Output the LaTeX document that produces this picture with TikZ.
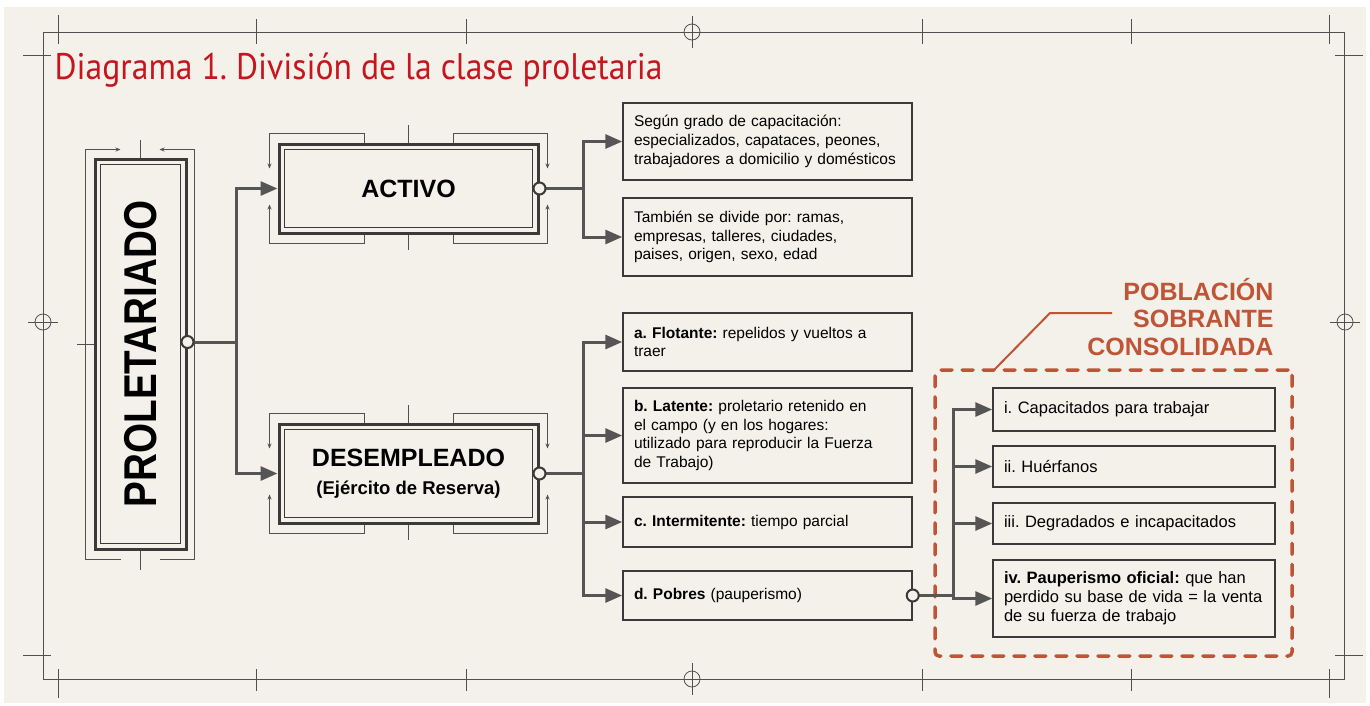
\documentclass[tikz,border=0pt]{standalone}
\usepackage{fontspec}
\setmainfont{Liberation Sans}
\newfontfamily\titlefont{PT Sans}
\usepackage{graphicx}
\usepackage{xcolor}
\usetikzlibrary{arrows.meta,positioning}

\definecolor{paper}{HTML}{F3F1EA}
\definecolor{boxline}{HTML}{3A3A3A}
\definecolor{wire}{HTML}{555555}
\definecolor{frameline}{HTML}{505050}
\definecolor{titlered}{HTML}{C8141C}
\definecolor{rust}{HTML}{BF5536}
\frenchspacing

\begin{document}
\begin{tikzpicture}[x=1pt, y=-1pt,
    every node/.style={font=\fontsize{15.5}{18.8}\selectfont},
    dbox/.style={draw=boxline, line width=3pt, fill=paper, align=center, font=\bfseries\fontsize{25}{30}\selectfont},
    txtbox/.style={draw=boxline, line width=1.5pt, fill=paper, text width=267pt, inner xsep=11pt, inner ysep=0pt, align=left},
    subbox/.style={txtbox, text width=260pt, font=\fontsize{16.5}{19}\selectfont},
    port/.style={circle, draw=boxline, line width=2pt, fill=paper, minimum size=12pt, inner sep=0pt},
    conn/.style={draw=wire, line width=3pt, -{Triangle[length=17pt,width=14pt]}},
    tick/.style={draw=frameline, line width=0.8pt},
    mini/.style={tick, -{Stealth[length=5pt,width=4pt]}}]

    % paper
    \fill[white] (0,0) rectangle (1370,705);
    \fill[paper] (4,7) rectangle (1366,703);
    \useasboundingbox (0,0) rectangle (1370,705);

    % sheet frame and register marks
    \draw[tick] (43,32) rectangle (1344,679);
    \foreach \x in {58,1329} {
        \draw[tick] (\x,15) -- (\x,44);
        \draw[tick] (\x,669) -- (\x,698);
    }
    \foreach \x in {256,466,922,1131} {
        \draw[tick] (\x,19) -- (\x,44);
        \draw[tick] (\x,669) -- (\x,691);
    }
    \foreach \y in {55,655} {
        \draw[tick] (23,\y) -- (51,\y);
        \draw[tick] (1335,\y) -- (1363,\y);
    }
    \foreach \y in {32,679} {
        \draw[tick] (692,\y) circle (8pt);
        \draw[tick] (692,\y-16) -- (692,\y+16);
    }
    \foreach \x in {43,1345} {
        \draw[tick] (\x,322) circle (8pt);
        \draw[tick] (\x-15,322) -- (\x+15,322);
    }

    \node[anchor=west, text=titlered, font=\titlefont\fontsize{37}{40}\selectfont] (title) at (51,70) {\scalebox{0.91}[1]{Diagrama 1. División de la clase proletaria}};

    % main boxes
    \node[dbox, minimum width=91, minimum height=390] (prol) at (140.5,354) {\rotatebox{90}{\fontsize{46}{50}\selectfont\scalebox{0.84}[1]{PROLETARIADO}}};
    \node[dbox, minimum width=259, minimum height=89] (act) at (408.5,188.5) {ACTIVO};
    \node[dbox, minimum width=259, minimum height=99] (des) at (408.5,473.5) {DESEMPLEADO\\[-2pt]{\fontsize{18.5}{22}\selectfont(Ejército de Reserva)}};
    \foreach \n in {prol,act,des}
        \draw[boxline, line width=1.2pt] ([shift={(7pt,7pt)}]\n.south west) rectangle ([shift={(-7pt,-7pt)}]\n.north east);

    % brackets
    \draw[mini, {Stealth[length=5pt,width=4pt]}-] ([shift={(27pt,8pt)}]prol.north west) -| ([shift={(-8pt,-9pt)}]prol.south west) -- ++(35pt,0);
    \draw[mini, {Stealth[length=5pt,width=4pt]}-] ([shift={(-28pt,8pt)}]prol.north east) -| ([shift={(7pt,-9pt)}]prol.south east) -- ++(-35pt,0);
    \draw[tick] (prol.north) -- ++(0,18pt);
    \draw[tick] (prol.south) -- ++(0,-19pt);
    \draw[tick] (77,344) -- (94,344);
    \foreach \n in {act,des} {
        \draw[mini] ([xshift=87pt]\n.north west) -- ++(0,9pt) -| ([shift={(-8pt,-26pt)}]\n.north west);
        \draw[mini] ([xshift=-86pt]\n.north east) -- ++(0,9pt) -| ([shift={(8pt,-26pt)}]\n.north east);
        \draw[mini] ([xshift=87pt]\n.south west) -- ++(0,-9pt) -| ([shift={(-8pt,30pt)}]\n.south west);
        \draw[mini] ([xshift=-86pt]\n.south east) -- ++(0,-9pt) -| ([shift={(8pt,30pt)}]\n.south east);
        \draw[tick] (\n.north) -- ++(0,18pt);
        \draw[tick] (\n.south) -- ++(0,-15pt);
    }

    % activo branches
    \node[txtbox, minimum height=77] (grado) at (767.5,141.5) {Según grado de capacitación:\\especializados, capataces, peones,\\trabajadores a domicilio y domésticos};
    \node[txtbox, minimum height=78] (ramas) at (767.5,237) {También se divide por: ramas,\\empresas, talleres, ciudades,\\paises, origen, sexo, edad};

    % desempleado branches
    \node[txtbox, minimum height=58] (flot) at (767.5,342) {\textbf{a. Flotante:} repelidos y vueltos a\\traer};
    \node[txtbox, minimum height=95] (lat) at (767.5,435.5) {\textbf{b. Latente:} proletario retenido en\\el campo (y en los hogares:\\utilizado para reproducir la Fuerza\\de Trabajo)};
    \node[txtbox, minimum height=50] (inter) at (767.5,522) {\textbf{c. Intermitente:} tiempo parcial};
    \node[txtbox, minimum height=49] (pobres) at (767.5,595.5) {\textbf{d. Pobres} (pauperismo)};

    % poblacion sobrante consolidada
    \node[draw=rust, line width=3.5pt, dash pattern=on 11pt off 10pt, line cap=round, rounded corners=4pt, minimum width=357, minimum height=286] (grp) at (1113.5,513) {};
    \node[subbox, minimum height=43] (cap) at (1134,409.5) {i. Capacitados para trabajar};
    \node[subbox, minimum height=41] (huer) at (1134,466.5) {ii. Huérfanos};
    \node[subbox, minimum height=41] (degr) at (1134,523.5) {iii. Degradados e incapacitados};
    \node[subbox, minimum height=77] (paup) at (1134,598.5) {\textbf{iv. Pauperismo oficial:} que han\\perdido su base de vida = la venta\\de su fuerza de trabajo};
    \node[anchor=east, align=right, text=rust, font=\bfseries\fontsize{25}{27.5}\selectfont] (psc) at (1277,317) {POBLACIÓN\\SOBRANTE\\CONSOLIDADA};
    \coordinate (lead) at (1112,313);
    \coordinate (leadend) at (994,370);
    \draw[rust, line width=2pt] (lead) -- ++(-62,0) -- (leadend);

    % connectors
    \draw[conn] ([yshift=12pt]prol.east) -- ++(49,0) |- (act);
    \draw[conn] ([yshift=12pt]prol.east) -- ++(49,0) |- (des);
    \draw[conn] (act.east) -- ++(44,0) |- (grado);
    \draw[conn] (act.east) -- ++(44,0) |- (ramas);
    \foreach \t in {flot,lat,inter,pobres}
        \draw[conn] (des.east) -- ++(44,0) |- (\t);
    \foreach \t in {cap,huer,degr,paup}
        \draw[conn] (pobres.east) -- ++(41,0) |- (\t);
    \node[port] (po) at ([yshift=12pt]prol.east) {};
    \node[port] (ao) at (act.east) {};
    \node[port] (dout) at (des.east) {};
    \node[port] (pbo) at (pobres.east) {};
\end{tikzpicture}
\end{document}
